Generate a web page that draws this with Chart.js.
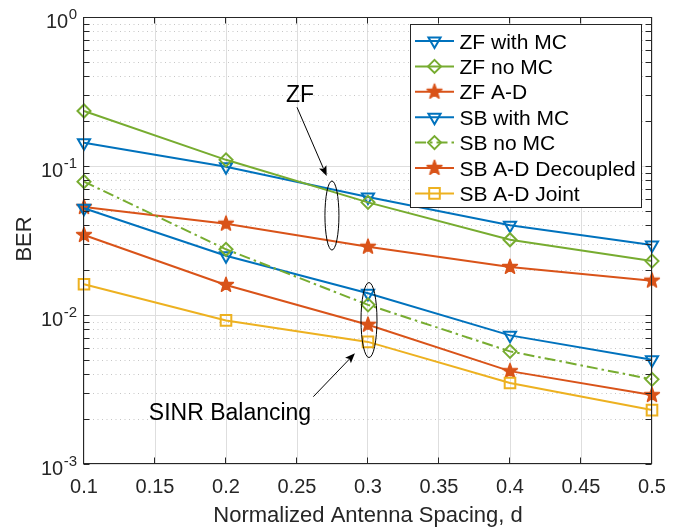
<!DOCTYPE html>
<html><head><meta charset="utf-8">
<script src="https://cdn.jsdelivr.net/npm/chart.js@4.4.1/dist/chart.umd.min.js"></script>
<style>html,body{margin:0;padding:0;background:#fff;}canvas{display:block}</style>
</head><body>
<canvas id="c" width="680" height="529"></canvas>
<script>
// ---- data ----
const spacing = [0.1, 0.2, 0.3, 0.4, 0.5];
const zfWithMC   = [0.143, 0.099, 0.062, 0.040, 0.0295];
const zfNoMC     = [0.234, 0.110, 0.057, 0.032, 0.023];
const zfAD       = [0.053, 0.041, 0.0287, 0.021, 0.017];
const sbWithMC   = [0.052, 0.025, 0.014, 0.0073, 0.0050];
const sbNoMC     = [0.0785, 0.0276, 0.0117, 0.0057, 0.0037];
const sbADDecoup = [0.0344, 0.0159, 0.0086, 0.0042, 0.0029];
const sbADJoint  = [0.0161, 0.0092, 0.0066, 0.0035, 0.0023];
const seriesNames = ['ZF with MC','ZF no MC','ZF A-D','SB with MC','SB no MC','SB A-D Decoupled','SB A-D Joint'];
const xTickValues = [0.1,0.15,0.2,0.25,0.3,0.35,0.4,0.45,0.5];
const xTickLabels = ['0.1','0.15','0.2','0.25','0.3','0.35','0.4','0.45','0.5'];
const yDecades = [1e-3, 1e-2, 1e-1, 1];
const yDecadeExps = ['-3','-2','-1','0'];
const xTitle = 'Normalized Antenna Spacing, d';
const yTitle = 'BER';

// ---- styles ----
const BLUE='#0072BD', GREEN='#77AC30', ORANGE='#D95319', YELLOW='#EDB120';
const FONT = '"Liberation Sans", Arial, Helvetica, sans-serif';
const AX = '#262626';

function pentagram(g,cx,cy,R){
  const r=R*0.40; g.beginPath();
  for(let k=0;k<10;k++){const ang=-Math.PI/2+k*Math.PI/5;const rr=k%2?r:R;
    const px=cx+rr*Math.cos(ang),py=cy+rr*Math.sin(ang); k?g.lineTo(px,py):g.moveTo(px,py);}
  g.closePath();
}
function starCanvas(color,R){
  const s=Math.ceil(2*R+6);const c=document.createElement('canvas');c.width=s;c.height=s;
  const g=c.getContext('2d');pentagram(g,s/2,s/2,R);g.fillStyle=color;g.fill();
  g.strokeStyle=color;g.lineWidth=1.5;g.lineJoin='round';g.stroke();return c;
}
const starImg = starCanvas(ORANGE, 7.8);

const styles = [
  {color:BLUE,  marker:'triangle', r:7,   dash:[]},
  {color:GREEN, marker:'rectRot',  r:6.5, dash:[]},
  {color:ORANGE,marker:'star',     r:7,   dash:[]},
  {color:BLUE,  marker:'triangle', r:7,   dash:[]},
  {color:GREEN, marker:'rectRot',  r:6.5, dash:[11,4,2.5,4]},
  {color:ORANGE,marker:'star',     r:7,   dash:[]},
  {color:YELLOW,marker:'rect',     r:7.5, dash:[]},
];
const seriesValues = [zfWithMC, zfNoMC, zfAD, sbWithMC, sbNoMC, sbADDecoup, sbADJoint];

const datasets = seriesValues.map((vals,i)=>{
  const st=styles[i];
  return {
    label: seriesNames[i],
    data: spacing.map((x,k)=>({x, y: vals[k]})),
    borderColor: st.color, backgroundColor: 'rgba(0,0,0,0)',
    borderWidth: 2, borderDash: st.dash, tension: 0,
    pointStyle: st.marker==='star' ? starImg : st.marker,
    pointRotation: st.marker==='triangle' ? 180 : 0,
    pointRadius: st.r, pointHoverRadius: st.r,
    pointBorderWidth: 2, pointBorderColor: st.color,
    pointBackgroundColor: 'rgba(0,0,0,0)',
    clip: false, order: 7-i
  };
});

// annotations in data coordinates
const annZF = {text:'ZF', tx:0.2521, ty:0.304, tail:[0.250,0.2477], tip:[0.2709,0.0857], ell:[0.2746,0.0465,7,34.5]};
const annSB = {text:'SINR Balancing', tx:0.2028, ty:0.002234, tail:[0.2615,0.00283], tip:[0.2908,0.00553], ell:[0.3007,0.00925,8,37.5]};

function drawMarker(ctx,st,cx,cy){
  ctx.save(); ctx.strokeStyle=st.color; ctx.lineWidth=2; ctx.setLineDash([]);
  const r=st.r; ctx.beginPath();
  if(st.marker==='triangle'){
    const s=Math.sin(Math.PI/3)*r;
    ctx.moveTo(cx,cy+r); ctx.lineTo(cx-s,cy-r/2); ctx.lineTo(cx+s,cy-r/2); ctx.closePath(); ctx.stroke();
  } else if(st.marker==='rectRot'){
    ctx.moveTo(cx,cy-r);ctx.lineTo(cx+r,cy);ctx.lineTo(cx,cy+r);ctx.lineTo(cx-r,cy);ctx.closePath();ctx.stroke();
  } else if(st.marker==='rect'){
    const h=r*Math.SQRT1_2; ctx.rect(cx-h,cy-h,2*h,2*h); ctx.stroke();
  } else {
    ctx.drawImage(starImg,cx-starImg.width/2,cy-starImg.height/2);
  }
  ctx.restore();
}

function arrow(ctx,x0,y0,x1,y1){
  const dx=x1-x0,dy=y1-y0,L=Math.hypot(dx,dy),ux=dx/L,uy=dy/L,nx=-uy,ny=ux;
  const HL=10,HW=4;
  const nxp=x1-ux*HL*0.8, nyp=y1-uy*HL*0.8;
  ctx.beginPath();ctx.moveTo(x0,y0);ctx.lineTo(nxp,nyp);ctx.stroke();
  ctx.beginPath();ctx.moveTo(x1,y1);
  ctx.lineTo(x1-ux*HL+nx*HW,y1-uy*HL+ny*HW);
  ctx.lineTo(nxp,nyp);
  ctx.lineTo(x1-ux*HL-nx*HW,y1-uy*HL-ny*HW);
  ctx.closePath();ctx.fill();
}

const overlay = {
  id:'overlay',
  beforeDatasetsDraw(chart){
    const {ctx, chartArea:a, scales:{y}} = chart;
    ctx.save(); ctx.strokeStyle='#c6c6c6'; ctx.lineWidth=1; ctx.setLineDash([1,3.5]);
    for(let e=-3;e<0;e++) for(let m=2;m<=9;m++){
      const py=Math.round(y.getPixelForValue(m*Math.pow(10,e)))+0.5;
      ctx.beginPath();ctx.moveTo(a.left,py);ctx.lineTo(a.right,py);ctx.stroke();
    }
    ctx.restore();
  },
  afterDatasetsDraw(chart){
    const {ctx, chartArea:a, scales:{x,y}} = chart;
    ctx.save();
    ctx.strokeStyle=AX; ctx.lineWidth=1; ctx.setLineDash([]);
    const L=Math.round(a.left)-0.5, R=Math.round(a.right)-0.5, T=Math.round(a.top)+0.5, B=Math.round(a.bottom)-0.5;
    ctx.strokeRect(L,T,R-L,B-T);
    const TL=6;
    ctx.beginPath();
    xTickValues.forEach(v=>{const px=Math.round(x.getPixelForValue(v))-0.5;
      ctx.moveTo(px,B);ctx.lineTo(px,B-TL);ctx.moveTo(px,T);ctx.lineTo(px,T+TL);});
    for(let e=-3;e<=0;e++) for(let m=1;m<=9;m++){
      const v=m*Math.pow(10,e); if(v>1+1e-12) continue;
      const py=Math.round(y.getPixelForValue(v))+0.5;
      ctx.moveTo(L,py);ctx.lineTo(L+TL,py);ctx.moveTo(R,py);ctx.lineTo(R-TL,py);
    }
    ctx.stroke();
    ctx.fillStyle=AX; ctx.font='20px '+FONT; ctx.textAlign='center'; ctx.textBaseline='alphabetic';
    xTickValues.forEach((v,i)=>ctx.fillText(xTickLabels[i], x.getPixelForValue(v), a.bottom+28.7));
    yDecades.forEach((v,i)=>{
      const py=y.getPixelForValue(v);
      ctx.font='15px '+FONT; ctx.textAlign='right';
      const ew=ctx.measureText(yDecadeExps[i]).width;
      const xr=a.left-7;
      ctx.fillText(yDecadeExps[i], xr, py+1.5);
      ctx.font='20px '+FONT;
      ctx.fillText('10', xr-ew-0.5, py+11);
    });
    ctx.font='22px '+FONT; ctx.textAlign='center';
    ctx.fillText(xTitle,(a.left+a.right)/2, a.bottom+57.5);
    ctx.save(); ctx.translate(30.5,(a.top+a.bottom)/2-1.5); ctx.rotate(-Math.PI/2); ctx.fillText(yTitle,0,0); ctx.restore();
    [annZF, annSB].forEach(an=>{
      ctx.font='23px '+FONT; ctx.textAlign='center'; ctx.fillStyle='#000';
      ctx.fillText(an.text, x.getPixelForValue(an.tx), y.getPixelForValue(an.ty)+8.2);
      ctx.strokeStyle='#000'; ctx.lineWidth=1;
      arrow(ctx, x.getPixelForValue(an.tail[0]), y.getPixelForValue(an.tail[1]), x.getPixelForValue(an.tip[0]), y.getPixelForValue(an.tip[1]));
      ctx.beginPath(); ctx.ellipse(x.getPixelForValue(an.ell[0]), y.getPixelForValue(an.ell[1]), an.ell[2], an.ell[3], 0, 0, 2*Math.PI); ctx.stroke();
    });
    ctx.restore();
  },
  afterDraw(chart){
    const ctx=chart.ctx;
    ctx.save();
    const bx=410.5, by=24.5, bw=231, bh=183;
    ctx.fillStyle='#fff'; ctx.fillRect(bx,by,bw,bh);
    ctx.strokeStyle=AX; ctx.lineWidth=1; ctx.strokeRect(bx,by,bw,bh);
    chart.data.datasets.forEach((ds,i)=>{
      const st=styles[i]; const cy=41+i*25.4;
      ctx.strokeStyle=st.color; ctx.lineWidth=2; ctx.setLineDash(st.dash);
      ctx.beginPath(); ctx.moveTo(415,cy); ctx.lineTo(454,cy); ctx.stroke();
      ctx.setLineDash([]);
      drawMarker(ctx,st,434.5,cy);
      ctx.fillStyle='#000'; ctx.font='21px '+FONT; ctx.textAlign='left'; ctx.textBaseline='alphabetic';
      ctx.fillText(ds.label, 459.5, cy+7.5);
    });
    ctx.restore();
  }
};

new Chart(document.getElementById('c'), {
  type:'line',
  data:{datasets},
  options:{
    responsive:false, animation:false, devicePixelRatio:1, events:[],
    layout:{padding:{left:84,right:28,top:17,bottom:65}},
    plugins:{legend:{display:false}, tooltip:{enabled:false}, title:{display:false}},
    scales:{
      x:{type:'linear', min:0.1, max:0.5,
         afterBuildTicks:(s)=>{s.ticks=xTickValues.map(v=>({value:v}));},
         ticks:{display:false}, grid:{color:'#dedede', lineWidth:1, drawTicks:false},
         border:{display:false}, afterFit:(s)=>{s.height=0;}},
      y:{type:'logarithmic', min:1e-3, max:1,
         afterBuildTicks:(s)=>{s.ticks=yDecades.map(v=>({value:v}));},
         ticks:{display:false}, grid:{color:'#dedede', lineWidth:1, drawTicks:false},
         border:{display:false}, afterFit:(s)=>{s.width=0;}}
    }
  },
  plugins:[overlay]
});
</script>
</body></html>
